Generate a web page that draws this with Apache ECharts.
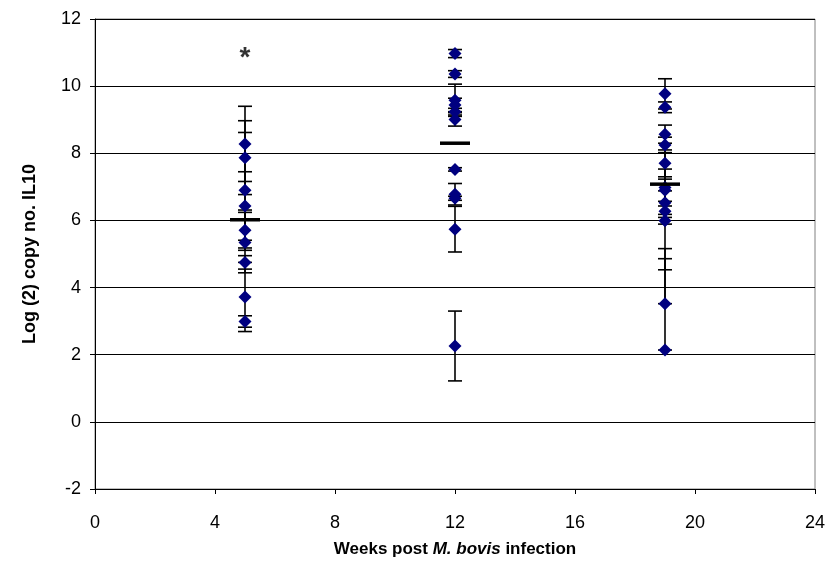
<!DOCTYPE html>
<html>
<head>
<meta charset="utf-8">
<script src="https://cdn.jsdelivr.net/npm/echarts@6/dist/echarts.min.js"></script>
<style>html,body{margin:0;padding:0;background:#fff}#c{width:830px;height:570px}</style>
</head>
<body>
<div id="c"></div>
<script>
// ---- data ----
var weeks = [5, 12, 19];
var wk5Values  = [8.28, 7.87, 6.90, 6.43, 5.71, 5.34, 4.75, 3.72, 2.99];
var wk5ErrUp   = [1.12, 1.10, 1.72, 1.02, 0.60, 0.90, 0.20, 1.03, 0.17];
var wk5ErrDown = [1.12, 1.10, 1.72, 1.02, 0.60, 0.90, 0.20, 1.03, 0.17];
var wk12Values  = [10.97, 10.36, 9.58, 9.44, 9.24, 9.01, 7.52, 6.78, 6.66, 5.74, 2.26];
var wk12ErrUp   = [0.12, 0.10, 0.48, 0.20, 0.10, 0.20, 0.05, 0.32, 0.06, 0.68, 1.04];
var wk12ErrDown = [0.12, 0.10, 0.48, 0.20, 0.10, 0.20, 0.05, 0.32, 0.06, 0.68, 1.04];
var wk19Values  = [9.77, 9.37, 8.57, 8.25, 7.70, 6.98, 6.90, 6.53, 6.27, 5.99, 3.52, 2.14];
var wk19ErrUp   = [0.45, 0.16, 0.27, 0.23, 0.40, 0.55, 0.33, 0.35, 1.74, 0.10, 1.34, 3.02];
var wk19ErrDown = [0.45, 0.16, 0.27, 0.23, 0.40, 0.55, 0.33, 0.35, 1.74, 0.10, 0.00, 0.00];
var groupMeans = [6.02, 8.30, 7.08];
var starMark = [5, 11.0];
var xTicks = [0, 4, 8, 12, 16, 20, 24];
var yTicks = [-2, 0, 2, 4, 6, 8, 10, 12];

// ---- build library data ----
var groups = [
  {x: weeks[0], v: wk5Values, up: wk5ErrUp, dn: wk5ErrDown},
  {x: weeks[1], v: wk12Values, up: wk12ErrUp, dn: wk12ErrDown},
  {x: weeks[2], v: wk19Values, up: wk19ErrUp, dn: wk19ErrDown}
];
var pts = [], errs = [];
groups.forEach(function (g) {
  g.v.forEach(function (val, i) {
    pts.push([g.x, val]);
    errs.push([g.x, val - g.dn[i], val + g.up[i]]);
  });
});
var means = weeks.map(function (w, i) { return [w, groupMeans[i]]; });

var chart = echarts.init(document.getElementById('c'), null, {renderer: 'canvas'});
var font = '"Liberation Sans", Arial, sans-serif';
chart.setOption({
  animation: false,
  backgroundColor: '#fff',
  grid: {left: 95, right: 15, top: 19, bottom: 81, show: true, borderColor: '#808080', borderWidth: 1},
  xAxis: {
    type: 'value', min: xTicks[0], max: xTicks[xTicks.length - 1], interval: 4,
    axisLine: {show: true, onZero: false, lineStyle: {color: '#000', width: 1}},
    axisTick: {show: true, inside: false, length: 5, lineStyle: {color: '#000'}},
    axisLabel: {color: '#000', fontFamily: font, fontSize: 18, margin: 25},
    splitLine: {show: false},
    name: '{n|Weeks post }{i|M. bovis}{n| infection}',
    nameLocation: 'middle', nameGap: 52,
    nameTextStyle: {
      rich: {
        n: {fontFamily: font, fontSize: 17, fontWeight: 'bold', color: '#000'},
        i: {fontFamily: font, fontSize: 17, fontWeight: 'bold', fontStyle: 'italic', color: '#000'}
      }
    }
  },
  yAxis: {
    type: 'value', min: yTicks[0], max: yTicks[yTicks.length - 1], interval: 2,
    axisLine: {show: true, onZero: false, lineStyle: {color: '#000', width: 1}},
    axisTick: {show: true, inside: false, length: 5, lineStyle: {color: '#000'}},
    axisLabel: {color: '#000', fontFamily: font, fontSize: 18, margin: 14},
    splitLine: {show: true, lineStyle: {color: '#000', width: 1}},
    name: 'Log (2) copy no. IL10',
    nameLocation: 'middle', nameGap: 56,
    nameTextStyle: {fontFamily: font, fontSize: 18, fontWeight: 'bold', color: '#000'}
  },
  series: [
    {
      type: 'custom', z: 2,
      data: errs,
      renderItem: function (params, api) {
        var x = api.value(0);
        var lo = api.coord([x, api.value(1)]);
        var hi = api.coord([x, api.value(2)]);
        var hw = 7;
        var st = {stroke: '#000', lineWidth: 1.6};
        return {
          type: 'group',
          children: [
            {type: 'line', shape: {x1: lo[0], y1: lo[1], x2: hi[0], y2: hi[1]}, style: st},
            {type: 'line', shape: {x1: hi[0] - hw, y1: hi[1], x2: hi[0] + hw, y2: hi[1]}, style: st},
            {type: 'line', shape: {x1: lo[0] - hw, y1: lo[1], x2: lo[0] + hw, y2: lo[1]}, style: st}
          ]
        };
      }
    },
    {
      type: 'scatter', z: 3,
      data: pts,
      symbol: 'diamond', symbolSize: [13, 13],
      itemStyle: {color: '#000080', opacity: 1}
    },
    {
      type: 'custom', z: 4,
      data: means,
      renderItem: function (params, api) {
        var p = api.coord([api.value(0), api.value(1)]);
        return {type: 'line', shape: {x1: p[0] - 15, y1: p[1], x2: p[0] + 15, y2: p[1]},
          style: {stroke: '#000', lineWidth: 3.5}};
      }
    },
    {
      type: 'scatter', z: 5,
      data: [starMark],
      symbolSize: 0,
      label: {show: true, position: 'inside', offset: [0, 6], formatter: '*', fontFamily: font, fontSize: 28, fontWeight: 'bold', color: '#000'}
    }
  ]
});
</script>
</body>
</html>
